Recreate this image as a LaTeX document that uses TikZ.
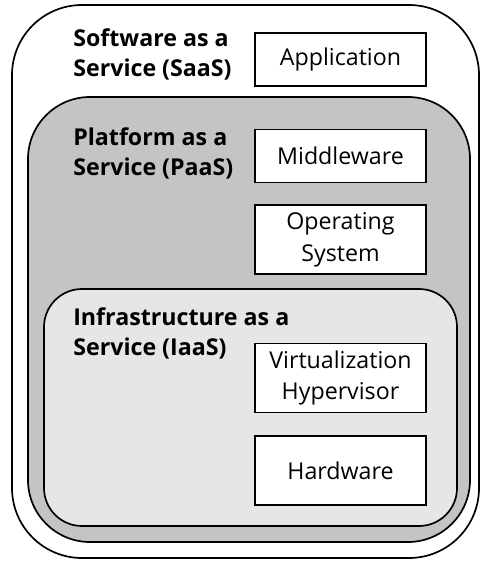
\documentclass[tikz,border=0pt]{standalone}
\usepackage{fontspec}
\setmainfont{Open Sans}
\usetikzlibrary{positioning}
\definecolor{paasgray}{RGB}{195,196,198}
\definecolor{iaasgray}{RGB}{229,230,232}
\tikzset{
  layer/.style={draw=black,line width=1.2pt},
  part/.style={draw=black,line width=1.2pt,fill=white,align=center,
    minimum width=4.275cm,minimum height=1.325cm,inner sep=0pt,
    font=\fontsize{16.5}{22.7}\selectfont},
  tallpart/.style={part,minimum height=1.725cm},
  heading/.style={anchor=north west,align=left,inner sep=0pt,
    font=\fontsize{16.5}{21.5}\selectfont\bfseries}
}
\begin{document}
\begin{tikzpicture}[x=0.025cm,y=-0.025cm]
  \useasboundingbox (0,0) rectangle (480,563);

  % the three layers
  \draw[layer,rounded corners=1.75cm,fill=white] (12,5) rectangle (479,558);
  \draw[layer,rounded corners=1.55cm,fill=paasgray] (28,97) rectangle (470,542);
  \draw[layer,rounded corners=0.95cm,fill=iaasgray] (44,289) rectangle (457,526);

  % SaaS
  \node[heading] (saas) at (73,28) {Software as a\\Service (SaaS)};
  \node[part] (app) at (340.5,59.5) {Application};

  % PaaS
  \node[heading] (paas) at (73,127) {Platform as a\\Service (PaaS)};
  \node[part] (mw) at (340.5,156) {Middleware};
  \node[tallpart,below=0.525cm of mw] (os) {Operating\\System};

  % IaaS
  \node[heading] (iaas) at (73,307) {Infrastructure as a\\Service (IaaS)};
  \node[tallpart] (virt) at (340.5,378) {Virtualization\\Hypervisor};
  \node[tallpart,below=0.55cm of virt] (hw) {Hardware};
\end{tikzpicture}
\end{document}
